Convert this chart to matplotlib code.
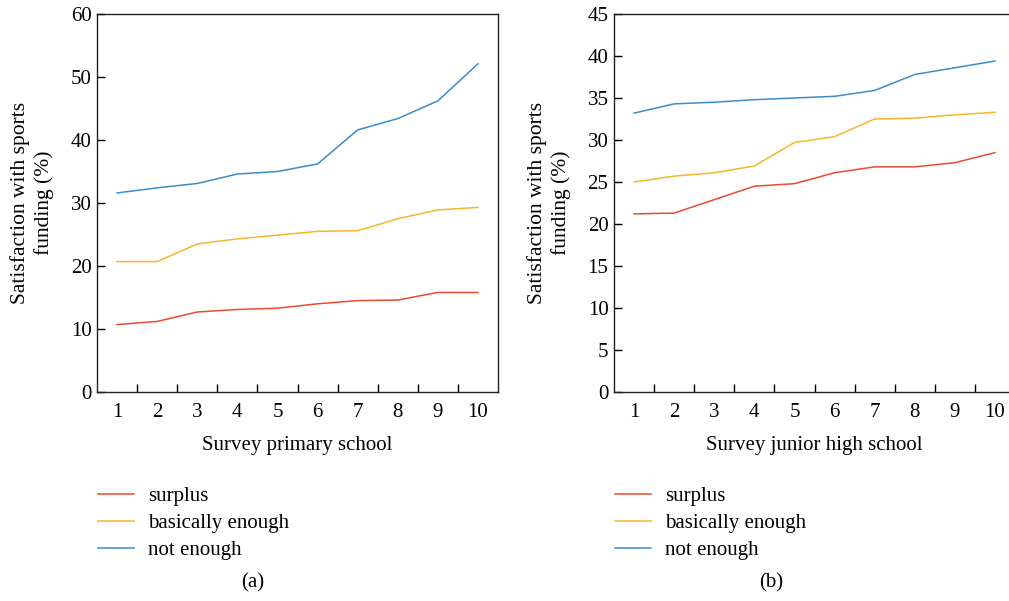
'''
Two-panel line chart: satisfaction with sports funding by survey school.
'''

import matplotlib
matplotlib.use("Agg")
import matplotlib.pyplot as plt

plt.rcParams["font.family"] = ["Liberation Serif", "DejaVu Serif"]
plt.rcParams["font.size"] = 15

# data
schools = list(range(1, 11))
series_names = ["surplus", "basically enough", "not enough"]
colors = ["#ea4a2f", "#f7b52c", "#3a8ccb"]

primary_surplus = [10.7, 11.2, 12.7, 13.1, 13.3, 14.0, 14.5, 14.6, 15.8, 15.8]
primary_basic = [20.7, 20.7, 23.5, 24.3, 24.9, 25.5, 25.6, 27.5, 28.9, 29.3]
primary_not = [31.6, 32.4, 33.1, 34.6, 35.0, 36.2, 41.6, 43.4, 46.2, 52.1]

junior_surplus = [21.2, 21.3, 22.9, 24.5, 24.8, 26.1, 26.8, 26.8, 27.3, 28.5]
junior_basic = [25.0, 25.7, 26.1, 26.9, 29.7, 30.4, 32.5, 32.6, 33.0, 33.3]
junior_not = [33.2, 34.3, 34.5, 34.8, 35.0, 35.2, 35.9, 37.8, 38.6, 39.4]

W, H = 1009, 601


def px_axes(fig, left, top, right, bottom):
    return fig.add_axes([left / W, (H - bottom) / H, (right - left) / W, (bottom - top) / H])


def draw_panel(fig, left, right, series, ymax, ystep, xlabel, tag, tag_x):
    ax = px_axes(fig, left, 14, right, 392)
    for vals, name, c in zip(series, series_names, colors):
        ax.plot(schools, vals, color=c, lw=1.1, label=name)

    ax.set_xlim(0.5, 10.5)
    ax.set_ylim(0, ymax)
    ax.set_yticks(range(0, ymax + 1, ystep))
    ax.set_xticks(schools)
    ax.set_xticks([x + 0.5 for x in schools[:-1]], minor=True)
    ax.tick_params(axis="x", which="major", length=0, pad=8)
    ax.tick_params(axis="x", which="minor", direction="in", length=6, width=1)
    ax.tick_params(axis="y", direction="in", length=6, width=1, pad=4)
    for s in ax.spines.values():
        s.set_linewidth(1.0)
        s.set_color("#222222")

    ax.set_xlabel(xlabel, fontsize=15, labelpad=10)
    ax.set_ylabel("Satisfaction with sports\nfunding (%)", fontsize=15.5, labelpad=12, linespacing=1.25)

    ax.legend(loc="upper left", bbox_to_anchor=(left / W - 0.007, 1 - 478 / H),
              bbox_transform=fig.transFigure, frameon=False, fontsize=15,
              handlelength=1.7, handletextpad=0.7, labelspacing=0.36, borderaxespad=0)

    fig.text(tag_x / W, 1 - 583 / H, tag, ha="center", va="center", fontsize=15)
    return ax


def main():
    fig = plt.figure(figsize=(W / 100, H / 100), dpi=100)

    draw_panel(fig, 97, 498, [primary_surplus, primary_basic, primary_not],
               60, 10, "Survey primary school", "(a)", 253)
    draw_panel(fig, 614, 1015, [junior_surplus, junior_basic, junior_not],
               45, 5, "Survey junior high school", "(b)", 771)

    plt.savefig("out.png", dpi=100)


if __name__ == "__main__":
    main()
